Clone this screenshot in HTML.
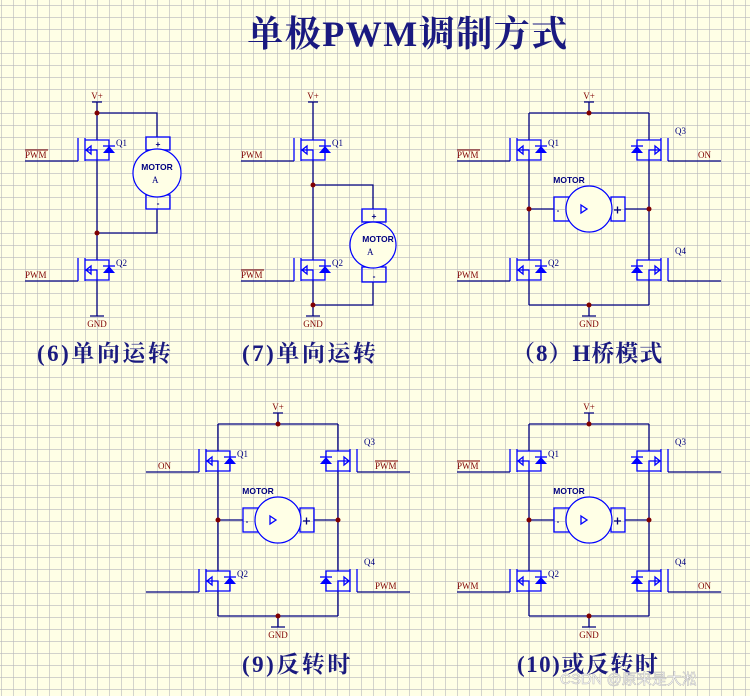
<!DOCTYPE html>
<html><head><meta charset="utf-8"><style>
html,body{margin:0;padding:0;background:#ffffe6;}
svg{display:block}
.r{stroke:#000080;stroke-width:1.3;fill:none}
.b{stroke:#0000ff;stroke-width:1.3;fill:none}
.lab{font-family:"Liberation Serif",serif;font-size:9px;fill:#800000}
.q{font-family:"Liberation Serif",serif;font-size:9px;fill:#000080}
.m{font-family:"Liberation Sans",sans-serif;font-size:8.5px;fill:#000080;font-weight:bold}
.cap{font-family:"Liberation Serif","Noto Serif CJK SC",serif;font-weight:bold;fill:#1a1a80}
</style></head><body>
<svg width="750" height="696" viewBox="0 0 750 696" xmlns="http://www.w3.org/2000/svg">
<defs>
<pattern id="g" x="1" y="5" width="12" height="12" patternUnits="userSpaceOnUse">
<rect width="12" height="12" fill="#ffffe6"/>
<path d="M0 0H12M0 0V12" stroke="#b8b8bc" stroke-width="1.2"/>
</pattern>
<g id="mos">
<line class="b" x1="-19" y1="-23" x2="-19" y2="0"/>
<line class="b" x1="-12" y1="-23" x2="-12" y2="0"/>
<path class="b" d="M-12 -21H12V-1H-12M-12 -11H0V-1"/>
<polygon class="b" points="-11,-11 -6,-15 -6,-7"/>
<polygon fill="#0000ff" points="12,-15 6,-8 18,-8"/>
<line class="b" x1="6" y1="-15" x2="18" y2="-15"/>
</g>
<g id="hb">
<path class="r" d="M589 102V113M584 102H594M529 113H649M529 113V140M529 160V260M529 280V305M649 113V140M649 160V260M649 280V305M529 305H649M589 305V316M582 316H596"/>
<circle cx="589" cy="113" r="2.5" fill="#800000"/>
<circle cx="589" cy="305" r="2.5" fill="#800000"/>
<use href="#mos" transform="translate(529,161)"/>
<use href="#mos" transform="translate(529,281)"/>
<use href="#mos" transform="translate(649,161) scale(-1,1)"/>
<use href="#mos" transform="translate(649,281) scale(-1,1)"/>
<path class="r" d="M457 161H510M457 281H510M668 161H721M668 281H721M529 209H554M625 209H649"/>
<circle cx="529" cy="209" r="2.5" fill="#800000"/>
<circle cx="649" cy="209" r="2.5" fill="#800000"/>
<rect class="b" x="554" y="197" width="16" height="24"/>
<rect class="b" x="611" y="197" width="14" height="24"/>
<circle cx="589" cy="209" r="23" fill="#ffffe6" stroke="#0000ff" stroke-width="1.2"/>
<polygon class="b" points="581,205 587,209 581,213"/>
<circle cx="558" cy="211" r="0.8" fill="#000080"/>
<path class="r" d="M614 210H621M617.5 206.5V213.5" stroke-width="1"/>
</g>
</defs>
<rect width="750" height="696" fill="url(#g)"/>

<text x="408" y="46" text-anchor="middle" class="cap" font-size="36" letter-spacing="1.5">单极PWM调制方式</text>

<!-- (6) -->
<path class="r" d="M97 102V113M92 102H102M97 113H157V137M97 113V140M97 160V260M97 280V316M90 316H104M97 233H157V209M25 161H78M25 281H78"/>
<circle cx="97" cy="113" r="2.5" fill="#800000"/>
<circle cx="97" cy="233" r="2.5" fill="#800000"/>
<use href="#mos" transform="translate(97,161)"/>
<use href="#mos" transform="translate(97,281)"/>
<rect class="b" x="146" y="137" width="24" height="13"/>
<rect class="b" x="146" y="195" width="24" height="14"/>
<circle cx="157" cy="173" r="24" fill="#ffffe6" stroke="#0000ff" stroke-width="1.2"/>
<text x="158" y="147" class="m" text-anchor="middle">+</text>
<text x="158" y="206" class="m" text-anchor="middle">-</text>
<text x="157" y="170" class="m" text-anchor="middle">MOTOR</text>
<text x="152" y="183" class="q" font-size="7">A</text>
<text x="97" y="99" class="lab" text-anchor="middle">V+</text>
<text x="97" y="327" class="lab" text-anchor="middle">GND</text>
<text x="116" y="146" class="q">Q1</text>
<text x="116" y="266" class="q">Q2</text>
<text x="25" y="158" class="lab">PWM</text><line x1="25" y1="150" x2="48" y2="150" stroke="#800000"/>
<text x="25" y="278" class="lab">PWM</text>

<!-- (7) -->
<path class="r" d="M313 102V113M308 102H318M313 102V140M313 160V260M313 280V316M306 316H320M313 185H373V209M373 282V305H313M241 161H294M241 281H294"/>
<circle cx="313" cy="185" r="2.5" fill="#800000"/>
<circle cx="313" cy="305" r="2.5" fill="#800000"/>
<use href="#mos" transform="translate(313,161)"/>
<use href="#mos" transform="translate(313,281)"/>
<rect class="b" x="362" y="209" width="24" height="13"/>
<rect class="b" x="362" y="267" width="24" height="15"/>
<circle cx="373" cy="245" r="23" fill="#ffffe6" stroke="#0000ff" stroke-width="1.2"/>
<text x="374" y="219" class="m" text-anchor="middle">+</text>
<text x="374" y="279" class="m" text-anchor="middle">-</text>
<text x="378" y="242" class="m" text-anchor="middle">MOTOR</text>
<text x="367" y="255" class="q" font-size="7">A</text>
<text x="313" y="99" class="lab" text-anchor="middle">V+</text>
<text x="313" y="327" class="lab" text-anchor="middle">GND</text>
<text x="332" y="146" class="q">Q1</text>
<text x="332" y="266" class="q">Q2</text>
<text x="241" y="158" class="lab">PWM</text>
<text x="241" y="278" class="lab">PWM</text><line x1="241" y1="270" x2="264" y2="270" stroke="#800000"/>

<!-- (8) -->
<use href="#hb"/>
<text x="589" y="99" class="lab" text-anchor="middle">V+</text>
<text x="589" y="327" class="lab" text-anchor="middle">GND</text>
<text x="569" y="183" class="m" text-anchor="middle">MOTOR</text>
<text x="548" y="146" class="q">Q1</text><text x="548" y="266" class="q">Q2</text>
<text x="675" y="134" class="q">Q3</text><text x="675" y="254" class="q">Q4</text>
<text x="457" y="158" class="lab">PWM</text><line x1="457" y1="150" x2="480" y2="150" stroke="#800000"/>
<text x="457" y="278" class="lab">PWM</text>
<text x="698" y="158" class="lab">ON</text>

<!-- (9) -->
<g transform="translate(-311,311)">
<use href="#hb"/>
<text x="589" y="99" class="lab" text-anchor="middle">V+</text>
<text x="589" y="327" class="lab" text-anchor="middle">GND</text>
<text x="569" y="183" class="m" text-anchor="middle">MOTOR</text>
<text x="548" y="146" class="q">Q1</text><text x="548" y="266" class="q">Q2</text>
<text x="675" y="134" class="q">Q3</text><text x="675" y="254" class="q">Q4</text>
<text x="469" y="158" class="lab">ON</text>
<text x="686" y="158" class="lab">PWM</text><line x1="686" y1="150" x2="709" y2="150" stroke="#800000"/>
<text x="686" y="278" class="lab">PWM</text>
</g>

<!-- (10) -->
<g transform="translate(0,311)">
<use href="#hb"/>
<text x="589" y="99" class="lab" text-anchor="middle">V+</text>
<text x="589" y="327" class="lab" text-anchor="middle">GND</text>
<text x="569" y="183" class="m" text-anchor="middle">MOTOR</text>
<text x="548" y="146" class="q">Q1</text><text x="548" y="266" class="q">Q2</text>
<text x="675" y="134" class="q">Q3</text><text x="675" y="254" class="q">Q4</text>
<text x="457" y="158" class="lab">PWM</text><line x1="457" y1="150" x2="480" y2="150" stroke="#800000"/>
<text x="457" y="278" class="lab">PWM</text>
<text x="698" y="278" class="lab">ON</text>
</g>

<text x="37" y="361" class="cap" font-size="23" letter-spacing="2.5">(6)单向运转</text>
<text x="242" y="361" class="cap" font-size="23" letter-spacing="2.5">(7)单向运转</text>
<text x="512" y="361" class="cap" font-size="23" letter-spacing="1">（8）H桥模式</text>
<text x="242" y="672" class="cap" font-size="23" letter-spacing="2.5">(9)反转时</text>
<text x="517" y="672" class="cap" font-size="23" letter-spacing="1.5">(10)或反转时</text>

<text x="560" y="684" font-family="Liberation Sans,Noto Sans CJK SC,sans-serif" font-size="15" fill="#ffffff" stroke="#b8b8b8" stroke-width="0.5">CSDN @原来是大淞</text>
</svg>
</body></html>
